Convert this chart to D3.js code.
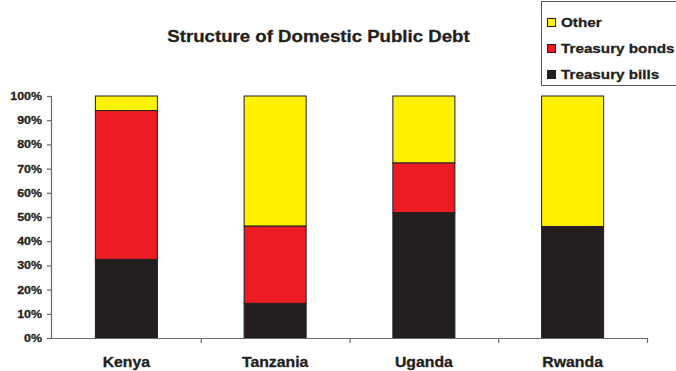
<!DOCTYPE html>
<html><head><meta charset="utf-8">
<script src="https://cdn.jsdelivr.net/npm/d3@7"></script>
<style>
body{margin:0;background:#fff;}
svg text{font-family:Arial,"Liberation Sans",sans-serif;font-weight:bold;fill:#231f20;stroke:#231f20;stroke-width:0.3px;}
</style></head>
<body>
<svg id="c" width="676" height="371"></svg>
<script>
const categories = ["Kenya", "Tanzania", "Uganda", "Rwanda"];
const treasuryBills = [32.5, 14.3, 51.8, 46.1];
const treasuryBonds = [61.5, 32.0, 20.6, 0];
const other = [6.0, 53.7, 27.6, 53.9];
const seriesNames = ["Treasury bills", "Treasury bonds", "Other"];
const seriesColors = ["#231f20", "#ed1c24", "#fff200"];
const yTicks = [0, 10, 20, 30, 40, 50, 60, 70, 80, 90, 100];
const title = "Structure of Domestic Public Debt";

const SX = 1.13; // horizontal text stretch
const svg = d3.select("#c");
const L = 52, R = 647, T = 96, B = 338;

const rows = categories.map((c, i) => ({cat: c, "Treasury bills": treasuryBills[i], "Treasury bonds": treasuryBonds[i], "Other": other[i]}));
const stack = d3.stack().keys(seriesNames)(rows);

const x = d3.scaleBand().domain(categories).range([L, R]).paddingInner(0.583).paddingOuter(0.2915);
const xb = d3.scaleLinear().domain([0, categories.length]).range([L, R]);
const y = d3.scaleLinear().domain([0, 100]).range([B, T]);

// title
svg.append("text").attr("transform", `translate(318.5,42) scale(${SX},1)`)
  .attr("text-anchor", "middle").style("font-size", "16.5px").text(title);

// bars
svg.append("g").selectAll("g").data(stack).join("g")
  .attr("fill", (d, i) => seriesColors[i])
  .selectAll("rect").data(d => d.filter(p => p[1] - p[0] > 0)).join("rect")
  .attr("x", d => x(d.data.cat)).attr("width", x.bandwidth())
  .attr("y", d => y(d[1])).attr("height", d => y(d[0]) - y(d[1]))
  .attr("stroke", "#231f20").attr("stroke-width", 1);

// y axis
const ya = svg.append("g").attr("transform", `translate(${L},0)`)
  .call(d3.axisLeft(y).tickValues(yTicks).tickSize(5).tickPadding(4).tickFormat(d => d + "%"));
ya.selectAll("path,line").attr("stroke", "#6a6a6a").attr("stroke-width", 1.2);
ya.select(".domain").attr("d", `M-0.5,${T}V${B}`);
ya.selectAll("text").attr("transform", `scale(${SX},1)`).attr("x", -10 / SX)
  .style("font-size", "11px").style("font-family", "Arial,'Liberation Sans',sans-serif").style("font-weight", "bold").attr("fill", "#231f20");

// x axis boundary ticks
const xt = svg.append("g").attr("transform", `translate(0,${B})`)
  .call(d3.axisBottom(xb).tickValues(d3.range(1, categories.length + 1)).tickSize(5).tickFormat(""));
xt.selectAll("path,line").attr("stroke", "#6a6a6a").attr("stroke-width", 1.2);
xt.select(".domain").attr("d", `M${L},0.5H${R}`);

// x labels
const xl = svg.append("g").attr("transform", `translate(0,${B})`)
  .call(d3.axisBottom(x).tickSize(0).tickPadding(19));
xl.select(".domain").remove();
xl.selectAll("text").attr("transform", `scale(${SX},1)`)
  .each(function(d){ d3.select(this).attr("x", 0); })
  .style("font-size", "14px").style("font-family", "Arial,'Liberation Sans',sans-serif").style("font-weight", "bold").attr("fill", "#231f20");

// legend
const lg = svg.append("g");
lg.append("rect").attr("x", 541.5).attr("y", 1.5).attr("width", 140).attr("height", 84)
  .attr("fill", "#fff").attr("stroke", "#555").attr("stroke-width", 1);
const legendOrder = ["Other", "Treasury bonds", "Treasury bills"];
legendOrder.forEach((name, i) => {
  const idx = seriesNames.indexOf(name);
  const yy = 27 + i * 26;
  lg.append("rect").attr("x", 547.5).attr("y", yy - 8.5).attr("width", 8).attr("height", 8)
    .attr("fill", seriesColors[idx]).attr("stroke", "#231f20").attr("stroke-width", 1);
  lg.append("text").attr("transform", `translate(561,${yy}) scale(${SX},1)`)
    .style("font-size", "13.5px").text(name);
});
</script>
</body></html>
